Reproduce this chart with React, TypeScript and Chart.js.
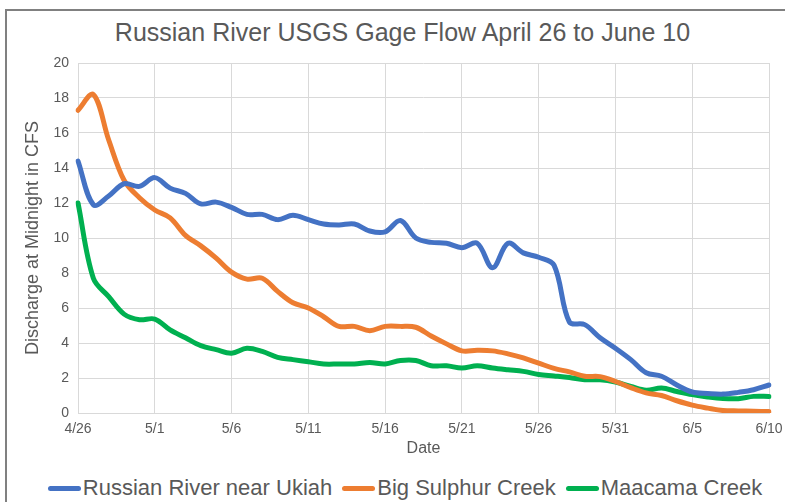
import React, { useEffect, useRef } from "react";
import { Chart, registerables } from "chart.js";

Chart.register(...registerables);

const dates = [
  "4/26", "4/27", "4/28", "4/29", "4/30", "5/1", "5/2", "5/3", "5/4", "5/5",
  "5/6", "5/7", "5/8", "5/9", "5/10", "5/11", "5/12", "5/13", "5/14", "5/15",
  "5/16", "5/17", "5/18", "5/19", "5/20", "5/21", "5/22", "5/23", "5/24", "5/25",
  "5/26", "5/27", "5/28", "5/29", "5/30", "5/31", "6/1", "6/2", "6/3", "6/4",
  "6/5", "6/6", "6/7", "6/8", "6/9", "6/10",
];

const russianRiver = [
  14.4, 11.9, 12.4, 13.1, 12.95, 13.45, 12.85, 12.55, 11.95, 12.05,
  11.75, 11.35, 11.35, 11.05, 11.3, 11.05, 10.8, 10.75, 10.8, 10.4,
  10.35, 11.0, 10.0, 9.75, 9.7, 9.45, 9.7, 8.3, 9.7, 9.15,
  8.9, 8.45, 5.2, 5.05, 4.3, 3.7, 3.05, 2.3, 2.1, 1.6,
  1.2, 1.12, 1.08, 1.18, 1.33, 1.6,
];

const bigSulphur = [
  17.3, 18.2, 15.6, 13.3, 12.3, 11.6, 11.15, 10.15, 9.55, 8.85,
  8.05, 7.65, 7.7, 6.95, 6.3, 6.0, 5.5, 4.95, 4.95, 4.7,
  4.95, 4.95, 4.9, 4.4, 3.95, 3.55, 3.58, 3.55, 3.38, 3.15,
  2.85, 2.55, 2.35, 2.1, 2.08, 1.8, 1.45, 1.15, 1.0, 0.7,
  0.45, 0.28, 0.14, 0.12, 0.1, 0.08,
];

const maacama = [
  12.0, 7.7, 6.65, 5.65, 5.33, 5.37, 4.75, 4.3, 3.85, 3.62,
  3.42, 3.7, 3.52, 3.18, 3.05, 2.93, 2.8, 2.8, 2.8, 2.89,
  2.8, 3.0, 3.0, 2.7, 2.7, 2.57, 2.7, 2.57, 2.47, 2.38,
  2.2, 2.12, 2.03, 1.9, 1.9, 1.77, 1.52, 1.3, 1.43, 1.23,
  1.05, 0.92, 0.83, 0.82, 0.95, 0.95,
];

const seriesNames = ["Russian River near Ukiah", "Big Sulphur Creek", "Maacama Creek"];
const seriesColors = ["#4472C4", "#ED7D31", "#00B050"];

const titleText = "Russian River USGS Gage Flow April 26 to June 10";
const yTitle = "Discharge at Midnight in CFS";
const xTitle = "Date";

const FONT = "'Liberation Sans', Arial, sans-serif";
const TEXT = "#595959";
const GRID = "#D9D9D9";

export default function App() {
  const ref = useRef<HTMLCanvasElement | null>(null);

  useEffect(() => {
    if (!ref.current) return;
    const values = [russianRiver, bigSulphur, maacama];
    const chart = new Chart(ref.current, {
      type: "line",
      data: {
        labels: dates,
        datasets: values.map((v, k) => ({
          label: seriesNames[k],
          data: v,
          borderColor: seriesColors[k],
          backgroundColor: seriesColors[k],
          borderWidth: 5,
          pointRadius: 0,
          tension: 0.35,
          borderCapStyle: "round" as const,
          borderJoinStyle: "round" as const,
          fill: false,
        })),
      },
      options: {
        responsive: false,
        animation: false,
        events: [],
        layout: { padding: { left: 0, right: 16, top: 13, bottom: 2 } },
        plugins: {
          legend: { display: false },
          title: { display: false },
          tooltip: { enabled: false },
        },
        scales: {
          x: {
            type: "category",
            offset: false,
            afterFit: (s: any) => {
              s.height = 45;
              s.paddingLeft = 0;
              s.paddingRight = 0;
            },
            grid: {
              color: (c: any) => (c.index % 5 === 0 ? GRID : "rgba(0,0,0,0)"),
              lineWidth: 1,
              drawTicks: false,
            },
            border: { display: true, color: GRID, width: 1 },
            ticks: {
              autoSkip: false,
              maxRotation: 0,
              padding: 8,
              color: TEXT,
              font: { family: FONT, size: 14 },
              callback: (_v: any, i: number) => (i % 5 === 0 ? dates[i] : ""),
            },
            title: {
              display: true,
              text: xTitle,
              color: TEXT,
              font: { family: FONT, size: 16 },
              padding: { top: 0, bottom: 0 },
            },
          },
          y: {
            min: 0,
            max: 20,
            afterFit: (s: any) => {
              s.width = 78;
              s.paddingTop = 0;
              s.paddingBottom = 0;
            },
            grid: { color: GRID, lineWidth: 1, drawTicks: false },
            border: { display: false },
            ticks: {
              stepSize: 2,
              padding: 9,
              color: TEXT,
              font: { family: FONT, size: 14 },
            },
            title: {
              display: true,
              text: yTitle,
              color: TEXT,
              font: { family: FONT, size: 18 },
              padding: { top: 22, bottom: 0 },
            },
          },
        },
      },
    });
    return () => chart.destroy();
  }, []);

  return (
    <div
      style={{
        position: "fixed",
        left: 0,
        top: 0,
        width: 785,
        height: 502,
        overflow: "hidden",
        background: "#fff",
        fontFamily: FONT,
      }}
    >
      <div
        style={{
          position: "absolute",
          left: 5,
          top: 9,
          width: 900,
          height: 700,
          border: "2px solid #808080",
          boxSizing: "border-box",
        }}
      />
      <div
        style={{
          position: "absolute",
          left: 0,
          top: 20,
          width: 805,
          textAlign: "center",
          fontSize: 25,
          lineHeight: "25px",
          color: TEXT,
          whiteSpace: "nowrap",
        }}
      >
        {titleText}
      </div>
      <canvas
        ref={ref}
        width={785}
        height={410}
        style={{ position: "absolute", left: 0, top: 50, width: 785, height: 410 }}
      />
      <div
        style={{
          position: "absolute",
          left: 0,
          top: 476,
          width: 810,
          display: "flex",
          justifyContent: "center",
          alignItems: "center",
          gap: 10,
          fontSize: 22,
          lineHeight: "24px",
          color: TEXT,
          whiteSpace: "nowrap",
        }}
      >
        {seriesNames.map((n, k) => (
          <div key={n} style={{ display: "flex", alignItems: "center" }}>
            <span
              style={{
                display: "inline-block",
                width: 33,
                height: 5,
                borderRadius: 3,
                background: seriesColors[k],
                marginRight: 2,
              }}
            />
            <span>{n}</span>
          </div>
        ))}
      </div>
    </div>
  );
}
